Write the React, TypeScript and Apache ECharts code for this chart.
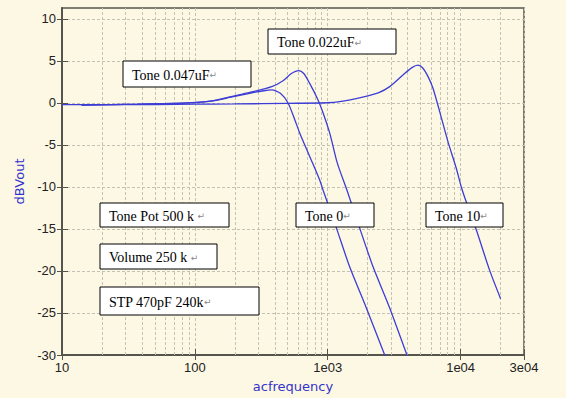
import React, { useEffect, useRef } from "react";
import * as echarts from "echarts";

// ---- data ----
const freqA = [14, 37, 87, 136, 183, 259, 330, 379, 440, 503, 565, 616, 733, 871, 923, 1163, 1462, 1953, 2683, 3000];
const dbA = [-0.25, -0.15, 0.0, 0.25, 0.65, 1.15, 1.45, 1.55, 1.15, 0.0, -2.0, -3.6, -6.4, -9.2, -10.4, -14.9, -19.5, -24.4, -30, -32];

const freqB = [14, 37, 87, 136, 183, 259, 379, 461, 533, 605, 660, 733, 845, 923, 1035, 1163, 1230, 1396, 1740, 2193, 2926, 3947, 4300];
const dbB = [-0.25, -0.15, 0.0, 0.25, 0.72, 1.25, 1.94, 2.65, 3.5, 3.85, 3.5, 2.3, 0.36, -1.2, -3.6, -6.8, -8.0, -10.4, -14.9, -19.5, -24.4, -30, -31.5];

const freqC = [10, 20, 50, 100, 200, 500, 1000, 1230, 1830, 2400, 2926, 3683, 4300, 4775, 5210, 5700, 6195, 6950, 8030, 9290, 10120, 11040, 13120, 16520, 20000];
const dbC = [-0.2, -0.2, -0.2, -0.15, -0.12, -0.05, 0.02, 0.15, 0.7, 1.2, 1.94, 3.33, 4.2, 4.5, 4.13, 3.1, 1.75, -1.0, -4.6, -7.8, -10.0, -11.8, -15.1, -19.9, -23.3];

const xTickValues = [10, 100, 1000, 10000, 30000];
const xTickLabels = ["10", "100", "1e03", "1e04", "3e04"];
const yTickValues = [-30, -25, -20, -15, -10, -5, 0, 5, 10];
const minorX = [20, 30, 40, 50, 60, 70, 80, 90, 200, 300, 400, 500, 600, 700, 800, 900, 2000, 3000, 4000, 5000, 6000, 7000, 8000, 9000, 20000];

const noteTexts = ["Tone 0.022uF", "Tone 0.047uF", "Tone Pot 500 k ", "Volume 250 k ", "STP 470pF 240k", "Tone 0", "Tone 10"];

// ---- layout ----
const noteBoxes = [
  { x: 268, y: 29, w: 128, h: 25 },
  { x: 123, y: 61, w: 128, h: 26 },
  { x: 100, y: 203, w: 129, h: 24 },
  { x: 100, y: 244, w: 117, h: 25 },
  { x: 100, y: 287, w: 159, h: 28 },
  { x: 296, y: 203, w: 78, h: 24 },
  { x: 426, y: 203, w: 77, h: 24 },
];

const LINE = "#3d3dd6";
const GRID = "#c4c2b4";
const FRAME = "#55554d";
const BG = "#fdf8e4";

const pairs = (xs: number[], ys: number[]) => xs.map((x, i) => [x, ys[i]]);

export default function App() {
  const ref = useRef<HTMLDivElement>(null);
  useEffect(() => {
    if (!ref.current) return;
    const chart = echarts.init(ref.current, undefined, { renderer: "svg" });
    const graphics: any[] = [];
    noteBoxes.forEach((b, i) => {
      graphics.push({
        type: "rect",
        shape: { x: b.x, y: b.y, width: b.w, height: b.h },
        style: { fill: "#ffffff", stroke: "#000000", lineWidth: 1 },
        z: 100,
      });
      graphics.push({
        type: "text",
        x: b.x + 9,
        y: b.y + b.h / 2 + 1,
        z: 101,
        style: {
          text: "{t|" + noteTexts[i] + "}{r|↵}",
          verticalAlign: "middle",
          rich: {
            t: { fontFamily: "Liberation Serif", fontSize: 14, fill: "#000" },
            r: { fontFamily: "DejaVu Sans", fontSize: 9, fill: "#888" },
          },
        },
      });
    });

    const lineSeries = (name: string, data: number[][]) => ({
      name,
      type: "line",
      data,
      smooth: 0.25,
      showSymbol: false,
      symbol: "none",
      clip: true,
      lineStyle: { color: LINE, width: 1.3 },
      itemStyle: { color: LINE },
      z: 5,
    });

    chart.setOption({
      animation: false,
      backgroundColor: BG,
      grid: {
        left: 62,
        right: 42,
        top: 8,
        bottom: 43,
        show: true,
        backgroundColor: BG,
        borderColor: FRAME,
        borderWidth: 1.5,
      },
      xAxis: [
        {
          type: "log",
          logBase: 10,
          min: 10,
          max: 30000,
          name: "acfrequency",
          nameLocation: "middle",
          nameGap: 25,
          nameTextStyle: { color: "#3333cc", fontFamily: "DejaVu Sans", fontSize: 13 },
          axisLine: { show: true, onZero: false, lineStyle: { color: FRAME, width: 2 } },
          axisTick: { show: true, length: 5, lineStyle: { color: FRAME }, customValues: xTickValues },
          axisLabel: {
            customValues: xTickValues,
            color: "#222",
            fontFamily: "Liberation Sans",
            fontSize: 13,
            margin: 6,
            formatter: (v: number) => {
              const i = xTickValues.findIndex((t) => Math.abs(t - v) / t < 1e-6);
              return i >= 0 ? xTickLabels[i] : "";
            },
          },
          splitLine: { show: true, lineStyle: { color: GRID, type: [3, 2], width: 1 } },
          minorSplitLine: { show: false },
        },
        {
          type: "log",
          logBase: 10,
          min: 10,
          max: 30000,
          position: "bottom",
          axisLine: { show: false, onZero: false },
          axisTick: { show: true, inside: true, length: 6, lineStyle: { color: FRAME }, customValues: xTickValues },
          axisLabel: { show: false },
          splitLine: { show: false },
        },
      ],
      yAxis: [
        {
          type: "value",
          min: -30,
          max: 11.3,
          interval: 5,
          name: "dBVout",
          nameLocation: "middle",
          nameGap: 31,
          nameTextStyle: { color: "#3333cc", fontFamily: "DejaVu Sans", fontSize: 13 },
          axisLine: { show: true, onZero: false, lineStyle: { color: FRAME, width: 2 } },
          axisTick: { show: true, length: 5, lineStyle: { color: FRAME }, customValues: yTickValues },
          axisLabel: {
            customValues: yTickValues,
            color: "#222",
            fontFamily: "Liberation Sans",
            fontSize: 13,
            margin: 6,
          },
          splitLine: { show: true, lineStyle: { color: GRID, type: [3, 2], width: 1 } },
        },
        {
          type: "value",
          min: -30,
          max: 11.3,
          interval: 5,
          position: "left",
          axisLine: { show: false, onZero: false },
          axisTick: { show: true, inside: true, length: 6, lineStyle: { color: FRAME }, customValues: yTickValues },
          axisLabel: { show: false },
          splitLine: { show: false },
        },
      ],
      series: [
        {
          ...lineSeries("Tone 10", pairs(freqC, dbC)),
          markLine: {
            silent: true,
            symbol: ["none", "none"],
            label: { show: false },
            lineStyle: { color: GRID, type: [3, 2], width: 1 },
            emphasis: { disabled: true },
            data: minorX.map((v) => ({ xAxis: v })),
            z: 1,
          },
        },
        lineSeries("Tone 0 / 0.047uF", pairs(freqA, dbA)),
        lineSeries("Tone 0 / 0.022uF", pairs(freqB, dbB)),
      ],
      graphic: graphics,
    });
    return () => chart.dispose();
  }, []);
  return <div ref={ref} style={{ position: "fixed", left: 0, top: 0, width: 566, height: 398 }} />;
}
